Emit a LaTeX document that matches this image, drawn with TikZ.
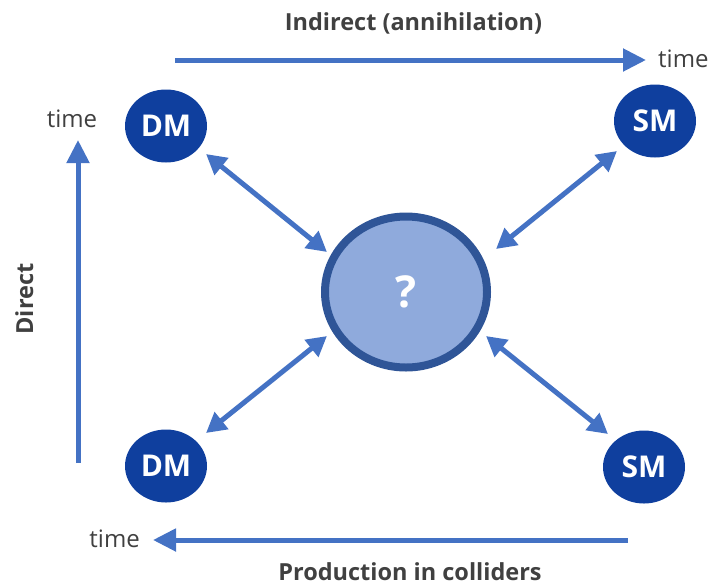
\documentclass[tikz,border=0pt]{standalone}
\usepackage{fontspec}
\setmainfont{Open Sans}
\usetikzlibrary{arrows.meta,shapes.geometric}
\definecolor{arrowblue}{HTML}{4472C4}
\definecolor{darkball}{HTML}{0F3F9E}
\definecolor{ringblue}{HTML}{2F5597}
\definecolor{fillblue}{HTML}{8FAADC}
\definecolor{txtgray}{HTML}{404040}
\tikzset{
  particle/.style={ellipse, fill=darkball, minimum width=82pt, minimum height=73pt, inner sep=0pt, text=white, font=\fontsize{30}{34}\selectfont\bfseries},
  timearrow/.style={draw=arrowblue, line width=5pt, -{Triangle[length=23pt, width=22pt]}},
  linkarrow/.style={draw=arrowblue, line width=5pt, {Triangle[length=20pt, width=21pt]}-{Triangle[length=20pt, width=21pt]}},
  timelabel/.style={text=txtgray, font=\fontsize{24}{28}\selectfont, inner sep=0pt},
  titlelabel/.style={text=txtgray, font=\fontsize{23.5}{28}\selectfont\bfseries, inner sep=0pt},
}
\begin{document}
\begin{tikzpicture}[x=1pt, y=-1pt]
\useasboundingbox (0,0) rectangle (711,587);
% particles
\node[particle] (dmtl) at (166,126) {DM};
\node[particle] (smtr) at (655,121) {SM};
\node[particle] (dmbl) at (166,466) {DM};
\node[particle] (smbr) at (644,467) {SM};
\node[ellipse, draw=ringblue, line width=8pt, fill=fillblue, minimum width=162pt, minimum height=151pt, text=white, font=\fontsize{44}{48}\selectfont\bfseries, inner sep=0pt] (mid) at (406,292) {?};
% link arrows
\coordinate (a1) at (206,154); \coordinate (b1) at (327,252);
\coordinate (a2) at (617,151); \coordinate (b2) at (496,249);
\coordinate (a3) at (206,433); \coordinate (b3) at (327,336);
\coordinate (a4) at (608,434); \coordinate (b4) at (486,336);
\draw[linkarrow] (a1) -- (b1);
\draw[linkarrow] (a2) -- (b2);
\draw[linkarrow] (a3) -- (b3);
\draw[linkarrow] (a4) -- (b4);
% time arrows
\coordinate (t1s) at (175,60); \coordinate (t1e) at (646,60);
\draw[timearrow] (t1s) -- (t1e);
\node[timelabel, anchor=base west] (time1) at (658,67) {time};
\node[titlelabel, anchor=base] (indirect) at (413.5,30) {Indirect (annihilation)};
\coordinate (t2s) at (78,463); \coordinate (t2e) at (78,140);
\draw[timearrow] (t2s) -- (t2e);
\node[timelabel, anchor=base] (time2) at (72,127) {time};
\node[titlelabel, rotate=90, anchor=base] (direct) at (33,299) {Direct};
\coordinate (t3s) at (628,540); \coordinate (t3e) at (153,540);
\draw[timearrow] (t3s) -- (t3e);
\node[timelabel, anchor=base east] (time3) at (140,547) {time};
\node[titlelabel, anchor=base] (prod) at (410,580) {Production in colliders};
\end{tikzpicture}
\end{document}
